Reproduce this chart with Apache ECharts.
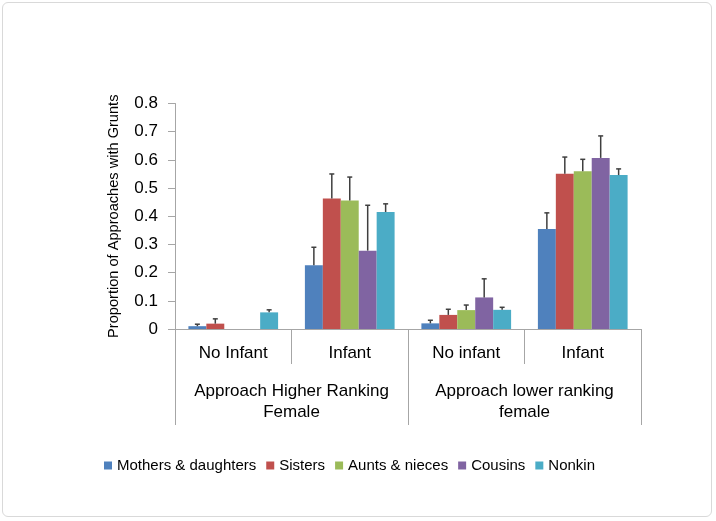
<!DOCTYPE html>
<html>
<head>
<meta charset="utf-8">
<script src="https://cdn.jsdelivr.net/npm/echarts@6/dist/echarts.min.js"></script>
<style>
html,body{margin:0;padding:0;background:#fff;}
#frame{position:absolute;left:2px;top:2px;width:710px;height:515px;border:1px solid #d9d9d9;border-radius:6px;box-sizing:border-box;}
#chart{width:716px;height:521px;position:absolute;left:0;top:0;}
</style>
</head>
<body>
<div id="frame"></div>
<div id="chart"></div>
<script>
// Data
var subCategories = ['No Infant', 'Infant', 'No infant', 'Infant'];
var mainCategories = ['Approach Higher Ranking\nFemale', 'Approach lower ranking\nfemale'];
var seriesNames = ['Mothers & daughters', 'Sisters', 'Aunts & nieces', 'Cousins', 'Nonkin'];
var colors = ['#4F81BD', '#C0504D', '#9BBB59', '#8064A2', '#4BACC6'];
var mothers  = [0.010, 0.226, 0.020, 0.355];
var sisters  = [0.019, 0.463, 0.050, 0.551];
var aunts    = [0,     0.456, 0.067, 0.560];
var cousins  = [0,     0.278, 0.112, 0.607];
var nonkin   = [0.059, 0.415, 0.068, 0.546];
// Upper error bar ends
var mothersErr = [0.017, 0.290, 0.031, 0.412];
var sistersErr = [0.036, 0.550, 0.070, 0.610];
var auntsErr   = [null,  0.539, 0.085, 0.602];
var cousinsErr = [null,  0.439, 0.178, 0.685];
var nonkinErr  = [0.068, 0.444, 0.077, 0.568];
var yTicks = [0, 0.1, 0.2, 0.3, 0.4, 0.5, 0.6, 0.7, 0.8];

var values = [mothers, sisters, aunts, cousins, nonkin];
var errs = [mothersErr, sistersErr, auntsErr, cousinsErr, nonkinErr];
var gapFrac = 0.23;
var FONT = 'Liberation Sans';

var chart = echarts.init(document.getElementById('chart'), null, {renderer: 'canvas'});

var series = [];
seriesNames.forEach(function (name, i) {
  series.push({
    name: name, type: 'bar', xAxisIndex: 0, data: values[i],
    barGap: '0%', barCategoryGap: (gapFrac * 100) + '%',
    itemStyle: {color: colors[i]}, silent: true
  });
});
seriesNames.forEach(function (name, i) {
  var data = values[i].map(function (v, k) { return [k, v, errs[i][k]]; });
  series.push({
    type: 'custom', xAxisIndex: 0, silent: true, z: 5,
    data: data,
    renderItem: function (params, api) {
      var hi = api.value(2);
      if (hi === null || hi === undefined || isNaN(hi)) return null;
      var band = api.size([1, 0])[0];
      var total = band * (1 - gapFrac);
      var bw = total / seriesNames.length;
      var off = -total / 2 + bw * (i + 0.5);
      var base = api.coord([api.value(0), api.value(1)]);
      var top = api.coord([api.value(0), hi]);
      var x = base[0] + off;
      var style = {stroke: '#3f3f3f', lineWidth: 1.5};
      return {type: 'group', children: [
        {type: 'line', shape: {x1: x, y1: base[1], x2: x, y2: top[1]}, style: style},
        {type: 'line', shape: {x1: x - 2.5, y1: top[1], x2: x + 2.5, y2: top[1]}, style: style}
      ]};
    }
  });
});

chart.setOption({
  animation: false,
  backgroundColor: 'transparent',
  textStyle: {fontFamily: FONT},
  legend: {
    bottom: 43, left: 99,
    itemWidth: 8, itemHeight: 8, itemGap: 10,
    icon: 'rect',
    data: seriesNames,
    textStyle: {fontFamily: FONT, fontSize: 15, color: '#000'}
  },
  grid: {left: 175, right: 75, top: 103.5, bottom: 192, containLabel: false},
  xAxis: [
    {
      type: 'category', data: subCategories, position: 'bottom',
      axisLine: {show: true, lineStyle: {color: '#a6a6a6', width: 1}},
      axisTick: {show: true, alignWithLabel: false, interval: 0, length: 35, lineStyle: {color: '#a6a6a6'}},
      axisLabel: {interval: 0, margin: 16, fontSize: 17, color: '#000', fontFamily: FONT}
    },
    {
      type: 'category', data: mainCategories, position: 'bottom',
      axisLine: {show: false},
      axisTick: {show: true, alignWithLabel: false, interval: 0, length: 96, lineStyle: {color: '#a6a6a6'}},
      axisLabel: {interval: 0, margin: 52, fontSize: 17, lineHeight: 21, color: '#000', fontFamily: FONT}
    }
  ],
  yAxis: {
    type: 'value', min: yTicks[0], max: yTicks[yTicks.length - 1], interval: 0.1,
    name: 'Proportion of Approaches with Grunts', nameLocation: 'middle', nameGap: 54,
    nameTextStyle: {fontSize: 14.6, color: '#000', fontFamily: FONT},
    axisLine: {show: true, lineStyle: {color: '#a6a6a6'}},
    axisTick: {show: true, length: 7, lineStyle: {color: '#a6a6a6'}},
    splitLine: {show: false},
    axisLabel: {fontSize: 17, color: '#000', margin: 17, fontFamily: FONT,
      formatter: function (v) { return String(Math.round(v * 10) / 10); }}
  },
  series: series
});
</script>
</body>
</html>
